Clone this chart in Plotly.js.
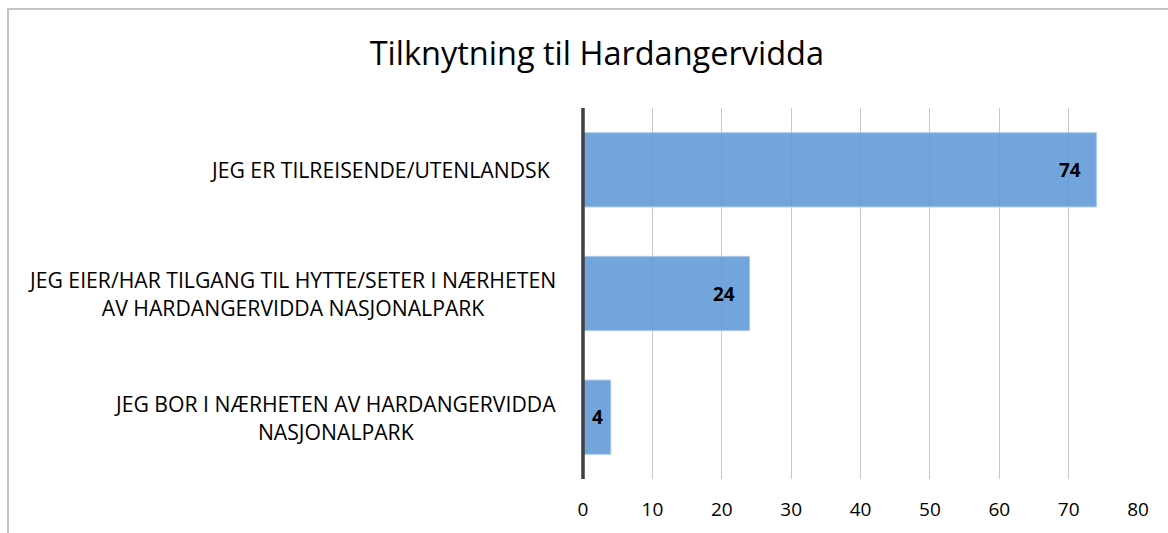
<!DOCTYPE html>
<html>
<head>
<meta charset="utf-8">
<script src="https://cdn.plot.ly/plotly-3.0.1.min.js"></script>
<style>
  html, body { margin:0; padding:0; background:#fff; }
  #wrap { position:relative; width:1168px; height:533px; overflow:hidden; }
  #chart { position:absolute; left:0; top:0; width:1168px; height:533px; }
  #frame { position:absolute; left:7px; top:8px; width:1200px; height:600px;
           border-left:2px solid #c3c3c3; border-top:2px solid #c3c3c3; pointer-events:none; }
</style>
</head>
<body>
<div id="wrap">
  <div id="chart"></div>
  <div id="frame"></div>
</div>
<script>
const chartTitle = "Tilknytning til Hardangervidda";
const categories = [
  "JEG ER TILREISENDE/UTENLANDSK",
  "JEG EIER/HAR TILGANG TIL HYTTE/SETER I NÆRHETEN<br>AV HARDANGERVIDDA NASJONALPARK",
  "JEG BOR I NÆRHETEN AV HARDANGERVIDDA<br>NASJONALPARK"
];
const values = [74, 24, 4];
const xTicks = [0, 10, 20, 30, 40, 50, 60, 70, 80];

const FONT = "'Open Sans', 'Liberation Sans', sans-serif";

const trace = {
  type: 'bar',
  orientation: 'h',
  y: categories,
  x: values,
  width: 0.6,
  marker: { color: 'rgba(94,153,214,0.88)', line: { color: 'rgba(170,200,235,1)', width: 1 } },
  textposition: 'none',
  hoverinfo: 'skip'
};

const annotations = [];
categories.forEach((c, i) => {
  annotations.push({
    xref: 'paper', yref: 'y', x: 0, y: c, xshift: i === 0 ? -31 : -25,
    xanchor: 'right', yanchor: 'middle', align: 'center',
    text: c, showarrow: false,
    font: { family: FONT, size: 21.2, color: '#000' }
  });
  annotations.push({
    xref: 'x', yref: 'y', x: values[i], y: c, xshift: values[i] < 10 ? -6 : -13,
    xanchor: 'right', yanchor: 'middle',
    text: '<b>' + values[i] + '</b>', showarrow: false,
    font: { family: FONT, size: 19, color: '#000' }
  });
});

const layout = {
  width: 1168, height: 533,
  margin: { l: 583, r: 30, t: 108, b: 54, pad: 0 },
  paper_bgcolor: 'rgba(0,0,0,0)', plot_bgcolor: 'rgba(0,0,0,0)',
  title: { text: chartTitle, x: 0.511, xanchor: 'center', y: 0.9, yanchor: 'middle',
           font: { family: FONT, size: 32.5, color: '#000' } },
  showlegend: false,
  bargap: 0.4,
  xaxis: {
    range: [0, 80], tickvals: xTicks, ticktext: xTicks.map(String),
    showgrid: true, gridcolor: '#c8c8c8', gridwidth: 1,
    zeroline: false, showline: false, ticks: '', ticklabelstandoff: 17,
    tickfont: { family: FONT, size: 19, color: '#000' }, fixedrange: true
  },
  yaxis: {
    autorange: 'reversed', showticklabels: false, showgrid: false,
    zeroline: false, showline: false, ticks: '', fixedrange: true
  },
  shapes: [{
    type: 'line', xref: 'paper', yref: 'paper', x0: 0, x1: 0, y0: 0, y1: 1, layer: 'above',
    line: { color: '#404040', width: 3.5 }
  }],
  annotations: annotations
};

Plotly.newPlot('chart', [trace], layout, { displayModeBar: false, staticPlot: true });
</script>
</body>
</html>
